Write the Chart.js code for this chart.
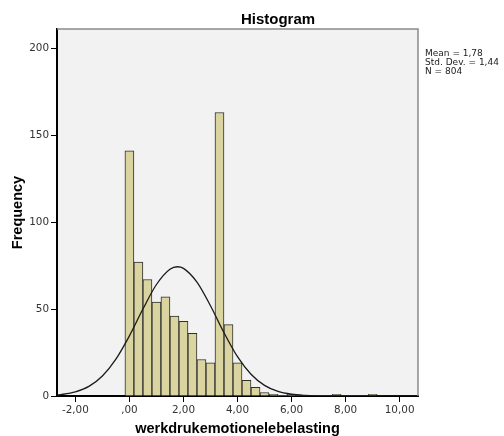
<!DOCTYPE html>
<html><head><meta charset="utf-8">
<script src="https://cdn.jsdelivr.net/npm/chart.js@4/dist/chart.umd.min.js"></script>
<style>html,body{margin:0;padding:0;background:#fff}#wrap{width:504px;height:436px;position:relative}</style>
</head><body><div id="wrap"><canvas id="c" width="504" height="436"></canvas></div>
<script>
// Histogram bins (bin centres) and counts
const binCenters = [0, 0.333, 0.667, 1, 1.333, 1.667, 2, 2.333, 2.667, 3, 3.333, 3.667, 4, 4.333, 4.667, 5, 5.333, 5.667, 6, 6.333, 6.667, 7, 7.333, 7.667, 8, 8.333, 8.667, 9];
const frequencies = [141, 77, 67, 54, 57, 46, 43, 36, 21, 19, 163, 41, 19, 9, 5, 2, 1, 0, 1, 0, 0, 0, 0, 1, 0, 0, 0, 1];
// Normal curve
const curveX = [-2.68, -2.5, -2, -1.5, -1, -0.5, 0, 0.5, 1, 1.5, 1.78, 2, 2.5, 3, 3.5, 4, 4.5, 5, 5.5, 6, 6.5, 7, 7.5, 8, 9, 10, 10.68];
const curveY = [0.6, 0.9, 2.4, 5.5, 11.5, 21.2, 34.6, 50.0, 64.1, 72.9, 74.3, 73.4, 65.5, 51.9, 36.4, 22.6, 12.5, 6.1, 2.6, 1.0, 0.35, 0.1, 0.03, 0, 0, 0, 0];
const xTickValues = [-2, 0, 2, 4, 6, 8, 10];
const xTickLabels = ['-2,00', ',00', '2,00', '4,00', '6,00', '8,00', '10,00'];
const yTickValues = [0, 50, 100, 150, 200];
const yTickLabels = ['0', '50', '100', '150', '200'];
const chartTitle = 'Histogram';
const xTitle = 'werkdrukemotionelebelasting';
const yTitle = 'Frequency';
const statsLines = ['Mean = 1,78', 'Std. Dev. = 1,44', 'N = 804'];

const tickFont = {family: 'DejaVu Sans', size: 10.4};
const titleFont = {family: 'Liberation Sans', size: 14.5, weight: 'bold', lineHeight: 1};

const decor = {
  id: 'decor',
  beforeDraw(chart) {
    const {ctx, chartArea: a} = chart;
    ctx.save();
    ctx.fillStyle = '#ffffff';
    ctx.fillRect(0, 0, chart.width, chart.height);
    ctx.fillStyle = '#f2f2f2';
    ctx.fillRect(a.left, a.top, a.right - a.left, a.bottom - a.top);
    ctx.restore();
  },
  afterDraw(chart) {
    const {ctx, chartArea: a} = chart;
    ctx.save();
    ctx.strokeStyle = '#8a8a8a';
    ctx.lineWidth = 1.5;
    ctx.beginPath();
    ctx.moveTo(a.left, a.top);
    ctx.lineTo(a.right, a.top);
    ctx.lineTo(a.right, a.bottom);
    ctx.stroke();
    ctx.fillStyle = '#000';
    ctx.font = 'bold 15px "Liberation Sans"';
    ctx.textAlign = 'center';
    ctx.textBaseline = 'alphabetic';
    ctx.fillText(chartTitle, 278, 24);
    ctx.font = '9px "DejaVu Sans"';
    ctx.textAlign = 'left';
    ctx.fillStyle = '#222';
    statsLines.forEach((t, i) => ctx.fillText(t, 425, 55.5 + i * 9.2));
    ctx.restore();
  }
};

new Chart(document.getElementById('c'), {
  type: 'bar',
  data: {
    datasets: [
      {
        type: 'line',
        data: curveX.map((x, i) => ({x: x, y: curveY[i]})),
        borderColor: '#1a1a1a',
        borderWidth: 1.3,
        pointRadius: 0,
        cubicInterpolationMode: 'monotone',
        fill: false,
        order: 1
      },
      {
        type: 'bar',
        data: binCenters.map((x, i) => ({x: x, y: frequencies[i]})),
        backgroundColor: '#dad4a0',
        borderColor: '#2e2e2e',
        borderWidth: (c) => (c.raw && c.raw.y > 0 ? 1 : 0),
        barPercentage: 1,
        categoryPercentage: 1,
        order: 2
      }
    ]
  },
  options: {
    responsive: false,
    animation: false,
    devicePixelRatio: 1,
    layout: {padding: {left: 0, right: 86, top: 29, bottom: 0}},
    plugins: {legend: {display: false}, tooltip: {enabled: false}, title: {display: false}},
    scales: {
      x: {
        type: 'linear',
        min: -2.68,
        max: 10.68,
        offset: false,
        z: 1,
        afterBuildTicks: (s) => { s.ticks = xTickValues.map(v => ({value: v})); },
        afterFit: (s) => { s.height = 40; },
        ticks: {
          callback: (v, i) => xTickLabels[i],
          font: tickFont, color: '#333', padding: 2, maxRotation: 0, autoSkip: false
        },
        grid: {offset: false, drawOnChartArea: false, drawTicks: true, tickLength: 6, color: '#000', lineWidth: 1},
        border: {color: '#000', width: 2},
        title: {display: true, text: xTitle, font: titleFont, color: '#000', padding: {top: 0, bottom: 0}}
      },
      y: {
        type: 'linear',
        min: 0,
        max: 211,
        z: 1,
        afterBuildTicks: (s) => { s.ticks = yTickValues.map(v => ({value: v})); },
        afterFit: (s) => { s.width = 57; },
        ticks: {
          callback: (v, i) => yTickLabels[i],
          font: tickFont, color: '#333', padding: 2, autoSkip: false
        },
        grid: {drawOnChartArea: false, drawTicks: true, tickLength: 6, color: '#000', lineWidth: 1},
        border: {color: '#000', width: 2},
        title: {display: true, text: yTitle, font: titleFont, color: '#000', padding: {top: 11, bottom: 0}}
      }
    }
  },
  plugins: [decor]
});
</script>
</body></html>
